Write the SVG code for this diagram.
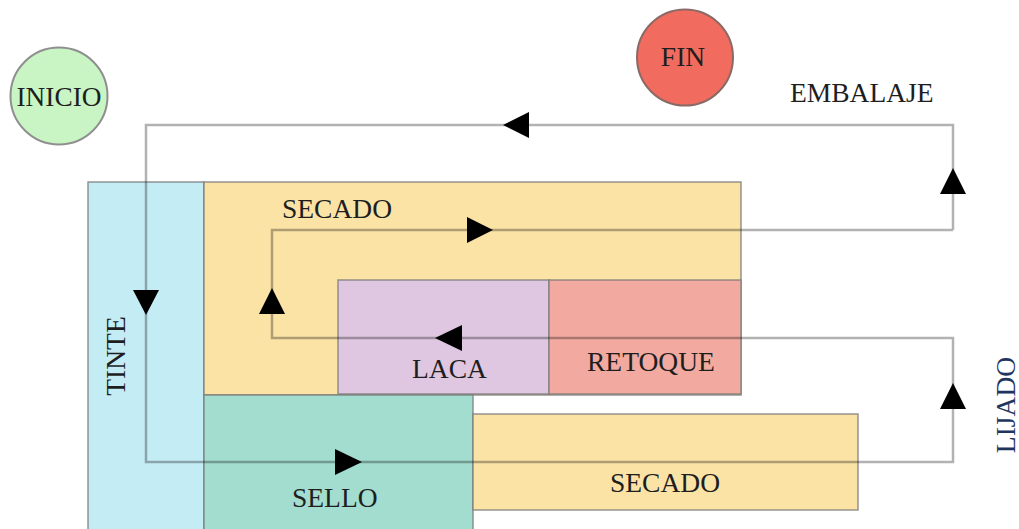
<svg xmlns="http://www.w3.org/2000/svg" width="1019" height="529" viewBox="0 0 1019 529">
  <style>
    .box { stroke: #7a7a7a; stroke-opacity: 0.8; stroke-width: 1.5; }
    .lbl { font-family: "Liberation Serif", "Times New Roman", serif; font-size: 27.5px; fill: #1e1e1e; }
    .flow { fill: none; stroke: #000; stroke-opacity: 0.3; stroke-width: 2.5; }
    .tri { fill: #000; }
  </style>
  <rect width="1019" height="529" fill="#ffffff"/>

  <!-- start / end -->
  <g id="inicio">
    <circle cx="59" cy="96" r="48.5" fill="#c9f5c4" stroke="#8f8f8f" stroke-width="2"/>
    <text class="lbl" x="59" y="106" text-anchor="middle" textLength="85" lengthAdjust="spacingAndGlyphs">INICIO</text>
  </g>
  <g id="fin">
    <circle cx="685" cy="57.5" r="48" fill="#f26b5f" stroke="#8a6a66" stroke-width="2"/>
    <text class="lbl" x="683" y="66" text-anchor="middle">FIN</text>
  </g>

  <!-- process areas -->
  <g id="tinte">
    <rect class="box" x="88" y="182" width="116" height="350" fill="#c4ecf5"/>
    <text class="lbl" transform="translate(125,356) rotate(-90)" text-anchor="middle">TINTE</text>
  </g>
  <g id="secado-top">
    <rect class="box" x="204" y="182" width="537" height="213" fill="#fbe3a6"/>
    <text class="lbl" x="282" y="218">SECADO</text>
  </g>
  <g id="laca">
    <rect class="box" x="338" y="280" width="211" height="114" fill="#dfc7e1"/>
    <text class="lbl" x="412" y="378">LACA</text>
  </g>
  <g id="retoque">
    <rect class="box" x="549" y="280" width="192" height="114" fill="#f2aaa0"/>
    <text class="lbl" x="587" y="371">RETOQUE</text>
  </g>
  <g id="sello">
    <rect class="box" x="204" y="395" width="269" height="137" fill="#a2ddcf"/>
    <text class="lbl" x="292" y="507">SELLO</text>
  </g>
  <g id="secado-bottom">
    <rect class="box" x="473" y="414" width="385" height="96" fill="#fbe3a6"/>
    <text class="lbl" x="610" y="492">SECADO</text>
  </g>
  <g id="embalaje">
    <text class="lbl" x="790" y="102">EMBALAJE</text>
  </g>
  <g id="lijado">
    <text class="lbl" transform="translate(1015,405) rotate(-90)" text-anchor="middle" style="fill:#1f3560">LIJADO</text>
  </g>

  <!-- flow path and direction marks -->
  <g id="connectors">
    <path class="flow" d="M953,230 V125 H146 V462 H953 V338 H272 V230 H953"/>
    <!-- top run, leftwards -->
    <polygon class="tri" points="503,125 529,112 529,138"/>
    <!-- right side, upwards into EMBALAJE -->
    <polygon class="tri" points="953,168 940,194 966,194"/>
    <!-- TINTE, downwards -->
    <polygon class="tri" points="146,315 133,290 159,290"/>
    <!-- SELLO, rightwards -->
    <polygon class="tri" points="362,462 335,449 335,475"/>
    <!-- LIJADO, upwards -->
    <polygon class="tri" points="953,383 940,409 966,409"/>
    <!-- LACA / RETOQUE, leftwards -->
    <polygon class="tri" points="435,338 462,325 462,351"/>
    <!-- SECADO, upwards -->
    <polygon class="tri" points="272,288 259,314 285,314"/>
    <!-- SECADO, rightwards -->
    <polygon class="tri" points="493,230 467,217 467,243"/>
  </g>
</svg>
